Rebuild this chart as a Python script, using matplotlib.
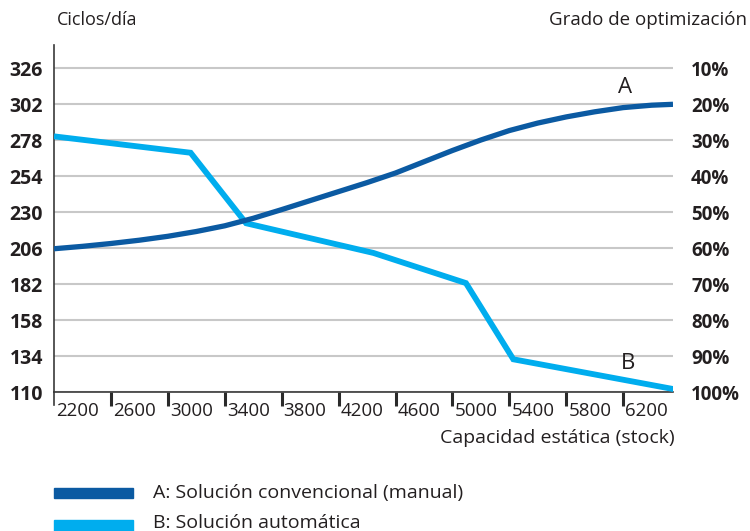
import matplotlib
matplotlib.use("Agg")
import matplotlib.pyplot as plt
from matplotlib.patches import Rectangle
import matplotlib.transforms as mtransforms

plt.rcParams['font.family'] = ['Open Sans', 'DejaVu Sans']

# ---- data ----
x_ticks = [2200, 2600, 3000, 3400, 3800, 4200, 4600, 5000, 5400, 5800, 6200]
y_ticks = [326, 302, 278, 254, 230, 206, 182, 158, 134, 110]
pct_labels = ["10%", "20%", "30%", "40%", "50%", "60%", "70%", "80%", "90%", "100%"]

a_x = [2200, 2400, 2600, 2800, 3000, 3200, 3400, 3600, 3800, 4000, 4200, 4400,
       4600, 4800, 5000, 5200, 5400, 5600, 5800, 6000, 6200, 6400, 6550]
a_y = [205.5, 207.1, 209, 211.2, 213.8, 217, 220.8, 225.8, 231.6, 237.6, 243.6, 249.6,
       256, 263.5, 271, 278, 284.3, 289.3, 293.4, 296.8, 299.6, 301.2, 301.8]

b_x = [2220, 3160, 3550, 4445, 5095, 5428, 6550]
b_y = [280.2, 269.5, 222.5, 202.7, 182.6, 131.8, 112]

label_a = "A: Solución convencional (manual)"
label_b = "B: Solución automática"

dark = "#0b5aa2"
light = "#00adee"
txt = "#231f20"
grid = "#c8c8c8"

W, H = 750, 531
fig = plt.figure(figsize=(W / 100, H / 100), dpi=100)
ax = fig.add_axes([54 / W, 1 - 392 / H, (673 - 54) / W, (392 - 45) / H])

ax.set_xlim(2200, 6550)
ax.set_ylim(110, 110 + (392 - 45) / 1.5)

for v in y_ticks:
    ax.plot([2200, 6550], [v, v], color=grid, lw=1.5, zorder=1, solid_capstyle='butt')

ax.plot(b_x, b_y, color=light, lw=4.2, zorder=3, solid_joinstyle='miter')
ax.plot(a_x, a_y, color=dark, lw=3.8, zorder=4, solid_capstyle='butt', solid_joinstyle='round')

for s in ['top', 'right']:
    ax.spines[s].set_visible(False)
for s in ['left', 'bottom']:
    ax.spines[s].set_color('#3a3a3a')
    ax.spines[s].set_linewidth(1.2)

ax.set_yticks(y_ticks)
ax.set_yticklabels([str(v) for v in y_ticks], fontsize=14, fontweight='bold', color=txt)
ax.tick_params(axis='y', length=0, pad=8)

ax.set_xticks(x_ticks[1:])
ax.set_xticklabels([])
ax.tick_params(axis='x', length=10, width=2.2, color='#2a2a2a', direction='out')
fig.add_artist(plt.Line2D([54 / W, 54 / W], [1 - 392 / H, 1 - 405 / H], color='#3a3a3a', lw=1.2))

trans = mtransforms.blended_transform_factory(ax.transData, fig.transFigure) + \
    mtransforms.ScaledTranslation(2 / 100, 0, fig.dpi_scale_trans)
for v in x_ticks:
    ax.text(v, 1 - 411 / H, str(v), transform=trans,
            ha='left', va='center', fontsize=13.5, color=txt)

ax2 = ax.twinx()
ax2.set_ylim(ax.get_ylim())
ax2.set_yticks(y_ticks)
ax2.set_yticklabels(pct_labels, fontsize=13.5, fontweight='bold', color=txt)
ax2.tick_params(axis='y', length=0, pad=13)
for s in ax2.spines.values():
    s.set_visible(False)

fig.text(57 / W, 1 - 20 / H, "Ciclos/día", ha='left', va='center', fontsize=13, color=txt)
fig.text(747 / W, 1 - 20 / H, "Grado de optimización", ha='right', va='center', fontsize=13.5, color=txt)
fig.text(675 / W, 1 - 438 / H, "Capacidad estática (stock)", ha='right', va='center', fontsize=14, color=txt)

ax.text(6214, 312.7, "A", ha='center', va='center', fontsize=16, color=txt)
ax.text(6235, 129.3, "B", ha='center', va='center', fontsize=16, color=txt)

fig.add_artist(Rectangle((54 / W, 1 - 498 / H), 79 / W, 10 / H, color=dark, transform=fig.transFigure))
fig.add_artist(Rectangle((54 / W, 1 - 531 / H), 79 / W, 11 / H, color=light, transform=fig.transFigure))
fig.text(153 / W, 1 - 493 / H, label_a, ha='left', va='center', fontsize=14, color=txt)
fig.text(153 / W, 1 - 523 / H, label_b, ha='left', va='center', fontsize=14, color=txt)

fig.savefig("out.png", dpi=100)
